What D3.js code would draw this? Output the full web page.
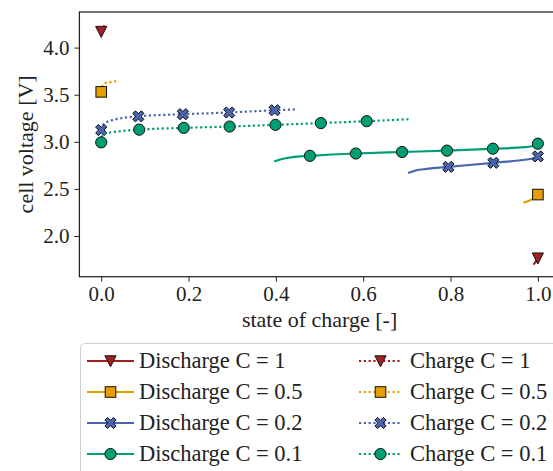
<!DOCTYPE html>
<html>
<head>
<meta charset="utf-8">
<script src="https://cdn.jsdelivr.net/npm/d3@7"></script>
<style>
  body { margin: 0; background: #fff; }
  .axis line { stroke: #222; stroke-width: 1px; }
</style>
</head>
<body>
<div id="graph"></div>
<script>
/* cell voltage vs state of charge, charge/discharge at several C rates */

var FONT = '"Liberation Serif", "DejaVu Serif", serif';

// series labels and colours
var rates = ['1', '0.5', '0.2', '0.1'];
var colors = ['#a31f22', '#e69f00', '#4a64ad', '#009e73'];
var symbols = ['tri', 'square', 'cross', 'circle'];

// discharge curves (state of charge, voltage)
var dis1_soc = [1.0, 0.997, 0.993, 0.990];
var dis1_v   = [1.765, 1.740, 1.715, 1.695];
var dis05_soc = [1.0, 0.990, 0.967];
var dis05_v   = [2.440, 2.400, 2.355];
var dis02_soc = [1.0, 0.990, 0.974, 0.898, 0.795, 0.745, 0.720, 0.703];
var dis02_v   = [2.845, 2.825, 2.812, 2.777, 2.734, 2.712, 2.695, 2.669];
var dis01_soc = [1.0, 0.990, 0.970, 0.897, 0.792, 0.689, 0.583, 0.478, 0.448, 0.425, 0.410, 0.396];
var dis01_v   = [2.980, 2.955, 2.943, 2.927, 2.906, 2.892, 2.876, 2.851, 2.842, 2.828, 2.812, 2.790];

// charge curves
var chg1_soc = [0.0, 0.004, 0.007, 0.010];
var chg1_v   = [4.170, 4.200, 4.230, 4.250];
var chg05_soc = [0.0, 0.003, 0.009, 0.019, 0.029, 0.039];
var chg05_v   = [3.530, 3.598, 3.623, 3.633, 3.640, 3.647];
var chg02_soc = [0.0, 0.003, 0.010, 0.030, 0.085, 0.187, 0.293, 0.397, 0.448];
var chg02_v   = [3.125, 3.170, 3.200, 3.235, 3.270, 3.293, 3.311, 3.335, 3.345];
var chg01_soc = [0.0, 0.002, 0.010, 0.030, 0.087, 0.189, 0.294, 0.399, 0.503, 0.608, 0.706];
var chg01_v   = [2.994, 3.060, 3.090, 3.105, 3.129, 3.148, 3.162, 3.180, 3.199, 3.219, 3.240];

// which points carry a marker
var dis1_mk = [0];
var dis05_mk = [0];
var dis02_mk = [0, 3, 4];
var dis01_mk = [0, 3, 4, 5, 6, 7];
var chg1_mk = [0];
var chg05_mk = [0];
var chg02_mk = [0, 4, 5, 6, 7];
var chg01_mk = [0, 4, 5, 6, 7, 8, 9];

var xTicks = [0, 0.2, 0.4, 0.6, 0.8, 1.0];
var yTicks = [2.0, 2.5, 3.0, 3.5, 4.0];

var discharge = [
  {soc: dis1_soc, v: dis1_v, mk: dis1_mk},
  {soc: dis05_soc, v: dis05_v, mk: dis05_mk},
  {soc: dis02_soc, v: dis02_v, mk: dis02_mk},
  {soc: dis01_soc, v: dis01_v, mk: dis01_mk}
];
var charge = [
  {soc: chg1_soc, v: chg1_v, mk: chg1_mk},
  {soc: chg05_soc, v: chg05_v, mk: chg05_mk},
  {soc: chg02_soc, v: chg02_v, mk: chg02_mk},
  {soc: chg01_soc, v: chg01_v, mk: chg01_mk}
];

var W = 553, H = 471;
var m = {left: 79.4, top: 12, right: 559.7, bottom: 276.7};

var svg = d3.select('#graph').append('svg')
  .attr('width', W).attr('height', H)
  .style('display', 'block');

var x = d3.scaleLinear().domain([-0.05, 1.05]).range([m.left, m.right]);
var y = d3.scaleLinear().domain([1.568, 4.378]).range([m.bottom, m.top]);

svg.append('defs').append('clipPath').attr('id', 'plotclip')
  .append('rect')
  .attr('x', m.left).attr('y', m.top)
  .attr('width', m.right - m.left).attr('height', m.bottom - m.top);

/* draw one marker of given kind centered at 0,0 */
function drawMarker(g, kind, color) {
  if (kind == 'circle') {
    g.append('circle').attr('r', 5.6);
  } else if (kind == 'square') {
    g.append('rect').attr('x', -5.3).attr('y', -5.3).attr('width', 10.6).attr('height', 10.6);
  } else if (kind == 'tri') {
    g.append('path').attr('d', 'M-5.6,-5.2L5.6,-5.2L0,5.8Z');
  } else {
    // filled X marker, fat arms
    var a = 2.7, b = 5.6;
    g.append('path').attr('d',
      'M' + (-b + a) + ',' + (-b) + 'L0,' + (-a) + 'L' + (b - a) + ',' + (-b) +
      'L' + b + ',' + (-b + a) + 'L' + a + ',0L' + b + ',' + (b - a) +
      'L' + (b - a) + ',' + b + 'L0,' + a + 'L' + (-b + a) + ',' + b +
      'L' + (-b) + ',' + (b - a) + 'L' + (-a) + ',0L' + (-b) + ',' + (-b + a) + 'Z');
  }
  g.selectAll('*').attr('fill', color).attr('stroke', '#111').attr('stroke-width', 1);
}

var plot = svg.append('g').attr('clip-path', 'url(#plotclip)');

var line = d3.line()
  .x(function(d) { return x(d[0]); })
  .y(function(d) { return y(d[1]); })
  .curve(d3.curveMonotoneX);

function drawSeries(s, i, dotted) {
  var pts = s.soc.map(function(v, k) { return [v, s.v[k]]; });
  pts.sort(function(a, b) { return a[0] - b[0]; });
  plot.append('path')
    .attr('d', line(pts))
    .attr('fill', 'none')
    .attr('stroke', colors[i])
    .attr('stroke-width', 2.2)
    .attr('stroke-dasharray', dotted ? '2.2,2.6' : null);
  s.mk.forEach(function(k) {
    var g = plot.append('g').attr('transform', 'translate(' + x(s.soc[k]) + ',' + y(s.v[k]) + ')');
    drawMarker(g, symbols[i], colors[i]);
  });
}

discharge.forEach(function(s, i) { drawSeries(s, i, false); });
charge.forEach(function(s, i) { drawSeries(s, i, true); });

// axes
var xAxis = d3.axisBottom(x).tickValues(xTicks).tickFormat(d3.format('.1f')).tickSize(5).tickPadding(4);
var yAxis = d3.axisLeft(y).tickValues(yTicks).tickFormat(d3.format('.1f')).tickSize(5).tickPadding(5);

function styleAxis(g) {
  g.select('.domain').remove();
  g.attr('font-family', FONT).attr('font-size', 21);
  g.selectAll('text').attr('fill', '#222');
}

svg.append('g').attr('class', 'axis')
  .attr('transform', 'translate(0,' + m.bottom + ')')
  .call(xAxis)
  .call(styleAxis);
svg.append('g').attr('class', 'axis')
  .attr('transform', 'translate(' + m.left + ',0)')
  .call(yAxis)
  .call(styleAxis);

// spines
svg.append('rect')
  .attr('x', m.left).attr('y', m.top)
  .attr('width', m.right - m.left).attr('height', m.bottom - m.top)
  .attr('fill', 'none').attr('stroke', '#222').attr('stroke-width', 1.25);

svg.append('text')
  .attr('x', (m.left + m.right) / 2).attr('y', 327)
  .attr('text-anchor', 'middle')
  .attr('font-family', FONT).attr('font-size', 22).attr('fill', '#222')
  .text('state of charge [-]');

svg.append('text')
  .attr('transform', 'translate(33,' + ((m.top + m.bottom) / 2) + ') rotate(-90)')
  .attr('text-anchor', 'middle')
  .attr('font-family', FONT).attr('font-size', 22).attr('fill', '#222')
  .text('cell voltage [V]');

// legend
var leg = svg.append('g');
leg.append('rect')
  .attr('x', 80.5).attr('y', 343.5).attr('width', 500).attr('height', 160)
  .attr('rx', 4).attr('fill', '#fff').attr('stroke', '#d0d0d0').attr('stroke-width', 1);

var rowY = [361, 392, 423, 454];
var cols = [
  {x0: 87, x1: 134, tx: 139, name: 'Discharge', dotted: false},
  {x0: 359, x1: 402, tx: 410, name: 'Charge', dotted: true}
];
cols.forEach(function(c) {
  rates.forEach(function(r, i) {
    leg.append('line')
      .attr('x1', c.x0).attr('x2', c.x1).attr('y1', rowY[i]).attr('y2', rowY[i])
      .attr('stroke', colors[i]).attr('stroke-width', 2.2)
      .attr('stroke-dasharray', c.dotted ? '2.2,2.6' : null);
    var g = leg.append('g').attr('transform', 'translate(' + ((c.x0 + c.x1) / 2) + ',' + rowY[i] + ')');
    drawMarker(g, symbols[i], colors[i]);
    leg.append('text')
      .attr('x', c.tx).attr('y', rowY[i] + 7)
      .attr('font-family', FONT).attr('font-size', 22.5).attr('fill', '#222')
      .text(c.name + ' C = ' + r);
  });
});
</script>
</body>
</html>
